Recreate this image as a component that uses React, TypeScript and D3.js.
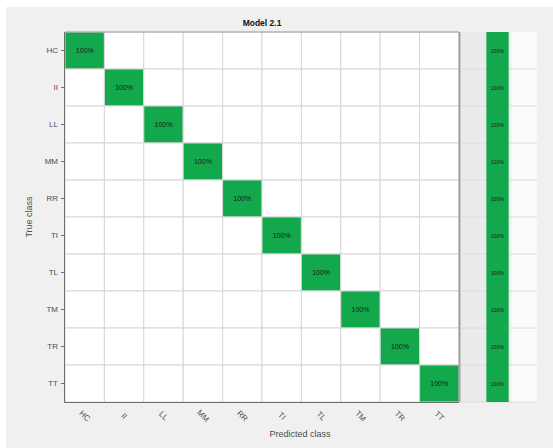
import React from "react";
import * as d3 from "d3";

const classes = ["HC", "II", "LL", "MM", "RR", "TI", "TL", "TM", "TR", "TT"];
// confusion percentages (row-normalized): diagonal 100%
const diagValues = [100, 100, 100, 100, 100, 100, 100, 100, 100, 100];
const summaryValues = [100, 100, 100, 100, 100, 100, 100, 100, 100, 100];
const title = "Model 2.1";
const xTitle = "Predicted class";
const yTitle = "True class";

const W = 553;
const H = 448;
const GREEN = "#13a84c";

export default function App() {
  const x = d3.scaleBand<string>().domain(classes).range([65, 459]);
  const y = d3.scaleBand<string>().domain(classes).range([32, 402]);
  const cells: { r: string; c: string; v: number }[] = [];
  classes.forEach((r, i) =>
    classes.forEach((c, j) => cells.push({ r, c, v: i === j ? diagValues[i] : 0 }))
  );
  const sumX = d3.scaleBand<string>().domain(["a", "b", "c"]).range([461, 537]);
  const bw = x.bandwidth();
  const bh = y.bandwidth();
  const textColor = "#4d4d4d";
  return (
    <svg
      width={W}
      height={H}
      style={{ position: "absolute", left: 0, top: 0, fontFamily: "Liberation Sans, Arial, sans-serif" }}
    >
      <rect x={0} y={0} width={W} height={H} fill="#ffffff" />
      <rect x={6} y={7} width={W - 6} height={H - 7} fill="#f0f0f0" />
      {/* main matrix */}
      {cells.map((d) => (
        <rect
          key={d.r + d.c}
          x={x(d.c)}
          y={y(d.r)}
          width={bw}
          height={bh}
          fill={d.v > 0 ? GREEN : "#ffffff"}
          stroke="#d6d6d6"
          strokeWidth={1}
        />
      ))}
      {cells
        .filter((d) => d.v > 0)
        .map((d) => (
          <text
            key={"t" + d.r + d.c}
            x={(x(d.c) as number) + bw / 2}
            y={(y(d.r) as number) + bh / 2}
            textAnchor="middle"
            dominantBaseline="central"
            fontSize={7}
            fill="#1a1a1a"
          >
            {d.v}%
          </text>
        ))}
      {/* axis frame */}
      <line x1={65} y1={32} x2={459} y2={32} stroke="#a0a0a0" />
      <line x1={459.5} y1={32} x2={459.5} y2={402} stroke="#a0a0a0" strokeWidth={2} />
      <line x1={64.5} y1={32} x2={64.5} y2={402.5} stroke="#6e6e6e" />
      <line x1={64.5} y1={402.5} x2={459} y2={402.5} stroke="#6e6e6e" />
      {/* summary */}
      <rect x={461} y={32} width={sumX("b")! - 461} height={370} fill="#ebebeb" />
      <rect x={sumX("c")} y={32} width={sumX.bandwidth()} height={370} fill="#fbfbfb" />
      {classes.map((c, i) => (
        <g key={"s" + c}>
          <line x1={461} x2={537} y1={(y(c) as number) + bh} y2={(y(c) as number) + bh} stroke="#dcdcdc" />
          <rect
            x={sumX("b")}
            y={y(c)}
            width={sumX.bandwidth() - 3}
            height={bh}
            fill={summaryValues[i] > 0 ? GREEN : "#ffffff"}
          />
          <text
            x={(sumX("b") as number) + (sumX.bandwidth() - 3) / 2}
            y={(y(c) as number) + bh / 2}
            textAnchor="middle"
            dominantBaseline="central"
            fontSize={5}
            fill="#1a1a1a"
          >
            {summaryValues[i]}%
          </text>
        </g>
      ))}
      {/* y tick labels */}
      {classes.map((c) => (
        <g key={"y" + c}>
          <line x1={61} x2={64} y1={(y(c) as number) + bh / 2} y2={(y(c) as number) + bh / 2} stroke="#6e6e6e" />
          <text
            x={58}
            y={(y(c) as number) + bh / 2}
            textAnchor="end"
            dominantBaseline="central"
            fontSize={8}
            fill={textColor}
          >
            {c}
          </text>
        </g>
      ))}
      {/* x tick labels */}
      {classes.map((c) => {
        const cx = (x(c) as number) + bw / 2;
        return (
          <text
            key={"x" + c}
            transform={`translate(${cx},${416}) rotate(45)`}
            textAnchor="middle"
            dominantBaseline="central"
            fontSize={8}
            fill={textColor}
          >
            {c}
          </text>
        );
      })}
      <text x={262} y={26} textAnchor="middle" fontSize={8.5} fontWeight="bold" fill="#111">
        {title}
      </text>
      <text x={300} y={437} textAnchor="middle" fontSize={9} fill={textColor}>
        {xTitle}
      </text>
      <text
        transform={`translate(32,217) rotate(-90)`}
        textAnchor="middle"
        fontSize={9}
        fill={textColor}
      >
        {yTitle}
      </text>
    </svg>
  );
}
